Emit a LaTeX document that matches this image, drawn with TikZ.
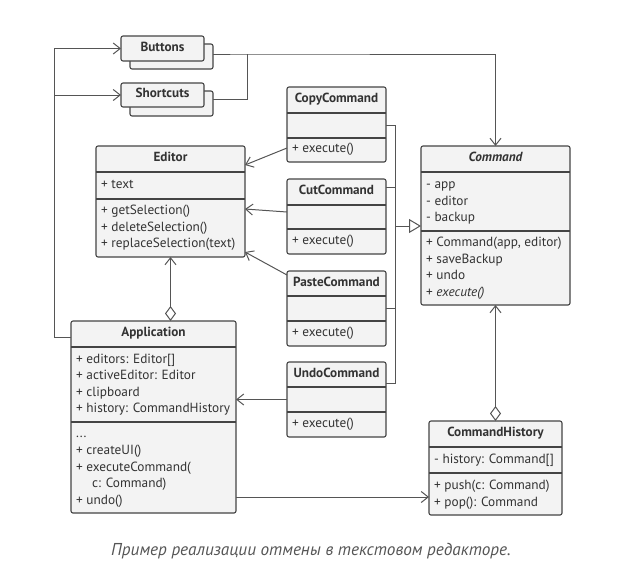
\documentclass[tikz,border=0pt]{standalone}
\usepackage{fontspec}
\setmainfont{PT Sans}
\usetikzlibrary{arrows.meta,calc}
\definecolor{boxfill}{HTML}{F3F3F3}
\definecolor{linec}{HTML}{444444}
\definecolor{connc}{HTML}{555555}
\definecolor{txt}{HTML}{333333}
\definecolor{capc}{HTML}{555555}
\tikzset{
  cls/.style={draw=linec, fill=boxfill, rounded corners=2pt, line width=1.1pt, anchor=north west, inner sep=0pt, outer sep=0pt},
  sep/.style={draw=linec, line width=1.1pt},
  ttl/.style={font=\fontsize{13.2}{15}\selectfont\bfseries, text=txt, inner sep=0pt, text height=9pt, text depth=4pt},
  mem/.style={font=\fontsize{13.3}{15}\selectfont, text=txt, anchor=west, inner sep=0pt, text height=9pt, text depth=4pt},
  conn/.style={draw=connc, line width=1pt},
  vtip/.style={-{Straight Barb[length=7pt,width=11pt]}},
  diamv/.style={{Diamond[open,length=15pt,width=11pt]}-{Straight Barb[length=7pt,width=11pt]}},
  tri/.style={-{Triangle[open,length=12pt,width=14pt,fill=white]}},
}
\newcommand{\clsbox}[5]{% name, x1, y1, x2, y2
  \node[cls, minimum width=#4pt-#2pt, minimum height=#5pt-#3pt] (#1) at (#2,#3) {};}
\begin{document}
\begin{tikzpicture}[x=1pt,y=-1pt]
\useasboundingbox (0,0) rectangle (637,582);

% Buttons / Shortcuts with shadow copies
\clsbox{buttonsS}{130}{44}{213}{69}
\clsbox{buttons}{121}{36}{204}{61}
\node[ttl] (buttonsT) at (162.5,48.5) {Buttons};
\clsbox{shortcutsS}{130}{91}{213}{116}
\clsbox{shortcuts}{121}{83}{204}{107}
\node[ttl] (shortcutsT) at (162.5,95) {Shortcuts};

% Command
\clsbox{command}{421}{146}{570}{305}
\draw[sep] (421,172) -- (570,172) (421,231) -- (570,231);
\node[ttl] (commandT) at (495.5,159) {\itshape Command};
\node[mem] (c1) at (426,186) {- app};
\node[mem] (c2) at (426,202.5) {- editor};
\node[mem] (c3) at (426,219) {- backup};
\node[mem] (c4) at (426,244) {+ Command(app, editor)};
\node[mem] (c5) at (426,260.5) {+ saveBackup};
\node[mem] (c6) at (426,277) {+ undo};
\node[mem] (c7) at (426,293.5) {+ \itshape execute()};

% Concrete commands
\clsbox{copy}{287}{87}{386}{162}
\draw[sep] (287,113) -- (386,113) (287,138) -- (386,138);
\node[ttl] (copyT) at (336.5,100) {CopyCommand};
\node[mem] (copyM) at (292,150) {+ execute()};

\clsbox{cut}{287}{179}{386}{254}
\draw[sep] (287,205) -- (386,205) (287,229) -- (386,229);
\node[ttl] (cutT) at (336.5,192) {CutCommand};
\node[mem] (cutM) at (292,241.5) {+ execute()};

\clsbox{paste}{287}{271}{386}{346}
\draw[sep] (287,296) -- (386,296) (287,321) -- (386,321);
\node[ttl] (pasteT) at (336.5,283.5) {PasteCommand};
\node[mem] (pasteM) at (292,333.5) {+ execute()};

\clsbox{undo}{287}{362}{386}{437}
\draw[sep] (287,387) -- (386,387) (287,412) -- (386,412);
\node[ttl] (undoT) at (336.5,374.5) {UndoCommand};
\node[mem] (undoM) at (292,424.5) {+ execute()};

% Editor
\clsbox{editor}{96}{146}{245}{257}
\draw[sep] (96,172) -- (245,172) (96,199) -- (245,199);
\node[ttl] (editorT) at (170.5,159) {Editor};
\node[mem] (e1) at (101,185.5) {+ text};
\node[mem] (e2) at (101,212) {+ getSelection()};
\node[mem] (e3) at (101,228.5) {+ deleteSelection()};
\node[mem] (e4) at (101,245) {+ replaceSelection(text)};

% Application
\clsbox{app}{71}{321}{236}{513}
\draw[sep] (71,347) -- (236,347) (71,422) -- (236,422);
\node[ttl] (appT) at (153.5,334) {Application};
\node[mem] (a1) at (76,360.5) {+ editors: Editor[]};
\node[mem] (a2) at (76,377) {+ activeEditor: Editor};
\node[mem] (a3) at (76,393.5) {+ clipboard};
\node[mem] (a4) at (76,410) {+ history: CommandHistory};
\node[mem] (a5) at (76,435) {...};
\node[mem] (a6) at (76,452) {+ createUI()};
\node[mem] (a7) at (76,468.5) {+ executeCommand(};
\node[mem] (a8) at (92,485) {c: Command)};
\node[mem] (a9) at (76,501.5) {+ undo()};

% CommandHistory
\clsbox{hist}{429}{421}{562}{515}
\draw[sep] (429,447) -- (562,447) (429,473) -- (562,473);
\node[ttl] (histT) at (495.5,434) {CommandHistory};
\node[mem] (h1) at (434,460.5) {- history: Command[]};
\node[mem] (h2) at (434,487) {+ push(c: Command)};
\node[mem] (h3) at (434,503.5) {+ pop(): Command};

% connectors
\coordinate (lcol) at (54,337);
\draw[conn,vtip] (app.west |- lcol) -- (lcol) |- (buttons.west);
\draw[conn,vtip] (lcol |- shortcuts.west) -- (shortcuts.west);
\coordinate (rj) at (247,54);
\draw[conn,vtip] (buttonsS.east |- rj) -- (rj) -| (command.north);
\draw[conn] (shortcutsS.east |- 0,99) -| (rj);

\coordinate (inh) at (395,226);
\draw[conn] (copy.east |- 0,125) -| (inh |- 0,383) -- (undo.east |- 0,383);
\draw[conn] (cut.east |- 0,187) -- (inh |- 0,187);
\draw[conn] (paste.east |- 0,308) -- (inh |- 0,308);
\draw[conn,tri] (inh) -- (command.west |- inh);

\draw[conn,vtip] (copy.west |- 0,148) -- (editor.east |- 0,165);
\draw[conn,vtip] (cut.west |- 0,212) -- (editor.east |- 0,209);
\draw[conn,vtip] (paste.west |- 0,275) -- (editor.east |- 0,252);

\draw[conn,diamv] (app.north -| editor.south) -- (editor.south);
\draw[conn,vtip] (undo.west) -- (undo.west -| app.east);
\draw[conn,vtip] (app.east |- 0,497) -- (hist.west |- 0,497);
\draw[conn,diamv] (hist.north) -- (hist.north |- command.south);

\node[font=\fontsize{17.2}{19}\selectfont\itshape, text=capc] (caption) at (311,551) {Пример реализации отмены в текстовом редакторе.};
\end{tikzpicture}
\end{document}
